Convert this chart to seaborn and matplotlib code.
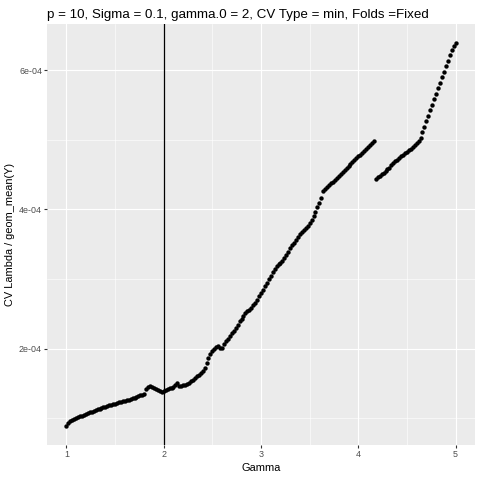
import numpy as np
import pandas as pd
import matplotlib
matplotlib.use('Agg')
import matplotlib.pyplot as plt
import seaborn as sns

# gamma grid used for the CV search (step 0.02 from 1 to 5)
gamma = np.round(np.arange(1.0, 5.0001, 0.02), 2)

# CV lambda / geom_mean(Y), in units of 1e-4
cv_ratio_e4 = [
    0.890, 0.930, 0.960, 0.980, 0.995, 1.005, 1.015, 1.025, 1.038, 1.050,  # 1.00-1.18
    1.062, 1.072, 1.083, 1.095, 1.108, 1.120, 1.128, 1.138, 1.150, 1.160,  # 1.20-1.38
    1.168, 1.176, 1.185, 1.195, 1.202, 1.210, 1.218, 1.228, 1.235, 1.242,  # 1.40-1.58
    1.250, 1.260, 1.268, 1.278, 1.287, 1.296, 1.305, 1.318, 1.327, 1.336,  # 1.60-1.78
    1.345, 1.425, 1.445, 1.460, 1.450, 1.435, 1.420, 1.400, 1.385, 1.380,  # 1.80-1.98
    1.395, 1.408, 1.418, 1.428, 1.440, 1.455, 1.478, 1.500, 1.462, 1.465,  # 2.00-2.18
    1.472, 1.482, 1.495, 1.512, 1.530, 1.552, 1.575, 1.600, 1.625, 1.655,  # 2.20-2.38
    1.685, 1.720, 1.790, 1.870, 1.925, 1.965, 1.995, 2.020, 2.035, 2.015,  # 2.40-2.58
    2.010, 2.060, 2.105, 2.145, 2.180, 2.220, 2.260, 2.300, 2.345, 2.390,  # 2.60-2.78
    2.430, 2.470, 2.505, 2.535, 2.560, 2.590, 2.625, 2.660, 2.705, 2.750,  # 2.80-2.98
    2.800, 2.845, 2.895, 2.945, 2.995, 3.050, 3.100, 3.150, 3.185, 3.210,  # 3.00-3.18
    3.235, 3.265, 3.300, 3.350, 3.395, 3.445, 3.485, 3.525, 3.565, 3.605,  # 3.20-3.38
    3.640, 3.675, 3.705, 3.735, 3.765, 3.800, 3.845, 3.900, 3.965, 4.030,  # 3.40-3.58
    4.090, 4.160, 4.265, 4.290, 4.318, 4.345, 4.373, 4.400, 4.428, 4.456,  # 3.60-3.78
    4.484, 4.511, 4.539, 4.567, 4.595, 4.622, 4.650, 4.678, 4.705, 4.733,  # 3.80-3.98
    4.761, 4.789, 4.816, 4.844, 4.872, 4.900, 4.927, 4.955, 4.983, 4.440,  # 4.00-4.18
    4.460, 4.485, 4.505, 4.525, 4.548, 4.575, 4.600, 4.640, 4.668, 4.690,  # 4.20-4.38
    4.712, 4.740, 4.765, 4.785, 4.808, 4.830, 4.850, 4.870, 4.892, 4.920,  # 4.40-4.58
    4.950, 4.985, 5.030, 5.110, 5.190, 5.270, 5.345, 5.425, 5.505, 5.585,  # 4.60-4.78
    5.660, 5.740, 5.820, 5.900, 5.980, 6.060, 6.140, 6.220, 6.290, 6.350,  # 4.80-4.98
    6.390,                                                                  # 5.00
]
assert len(cv_ratio_e4) == len(gamma)

gamma_0 = 2
x_ticks = [1, 2, 3, 4, 5]
y_ticks = [2e-4, 4e-4, 6e-4]
y_tick_labels = ['2e-04', '4e-04', '6e-04']
title = 'p = 10, Sigma = 0.1, gamma.0 = 2, CV Type = min, Folds =Fixed'

df = pd.DataFrame({'Gamma': gamma, 'ratio': np.array(cv_ratio_e4) * 1e-4})

plt.rcParams['font.family'] = ['Liberation Sans', 'DejaVu Sans']
fig = plt.figure(figsize=(4.8, 4.8), dpi=100)
ax = fig.add_axes([47 / 480, 1 - 445 / 480, 428 / 480, 421 / 480])
ax.set_facecolor('#EBEBEB')
for s in ax.spines.values():
    s.set_visible(False)

# ggplot-like limits: data range expanded by 5%
xr = df['Gamma'].max() - df['Gamma'].min()
yr = df['ratio'].max() - df['ratio'].min()
ax.set_xlim(df['Gamma'].min() - 0.05 * xr, df['Gamma'].max() + 0.05 * xr)
ax.set_ylim(df['ratio'].min() - 0.05 * yr, df['ratio'].max() + 0.05 * yr)

ax.set_xticks(x_ticks)
ax.set_xticks([1.5, 2.5, 3.5, 4.5], minor=True)
ax.set_yticks(y_ticks)
ax.set_yticklabels(y_tick_labels)
ax.set_yticks([1e-4, 3e-4, 5e-4], minor=True)
ax.grid(which='major', color='white', linewidth=0.8)
ax.grid(which='minor', color='white', linewidth=0.4)
ax.set_axisbelow(True)
ax.tick_params(which='major', length=2, width=0.8, color='#333333',
               labelsize=6.4, labelcolor='#4D4D4D', pad=1.6)
ax.tick_params(which='minor', length=0)

ax.axvline(gamma_0, color='black', linewidth=0.9, zorder=2)
sns.scatterplot(data=df, x='Gamma', y='ratio', ax=ax, color='black',
                s=10, linewidth=0, zorder=3)

ax.set_xlabel('Gamma', fontsize=7.9, labelpad=3)
ax.set_ylabel('CV Lambda / geom_mean(Y)', fontsize=7.9, labelpad=3)
ax.set_title(title, loc='left', fontsize=9.6, pad=4)

fig.savefig('out.png', dpi=100)
